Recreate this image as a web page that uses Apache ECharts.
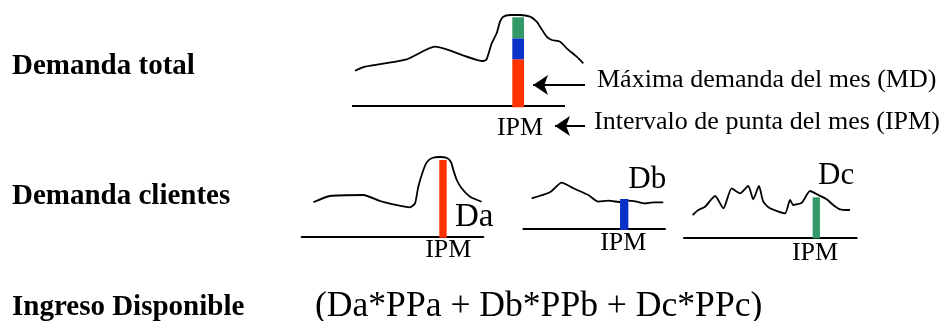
<!DOCTYPE html>
<html>
<head>
<meta charset="utf-8">
<script src="https://cdn.jsdelivr.net/npm/echarts@6/dist/echarts.min.js"></script>
<style>html,body{margin:0;padding:0;background:#fff}#c{width:949px;height:321px}</style>
</head>
<body>
<div id="c"></div>
<script>
// ---- data (x: position in month, 0..100 = month span; y: demand units) ----
const monthSpan = [0, 100];
const totalCurve = [[1.4,35.3],[6.1,39.3],[25.7,46.7],[39.0,59.3],[61.6,45],[63.2,46.7],[65.6,62.7],[67.9,72.7],[69.5,84.3],[71.0,89.3],[74.2,91],[78.9,91],[83.6,89.3],[86.7,84.3],[88.3,79.3],[91.4,69.3],[93.8,66],[97.7,64.3],[100.8,57.7],[105.5,49.3],[108.6,42.7]];
const curveA = [[6.4,34.4],[15.6,40.7],[33.9,41.7],[43.1,35.7],[50.4,32.4],[59.6,29.4],[62.4,33.4],[64.2,50],[67.0,66.7],[69.0,74.7],[71.8,78.7],[76.2,79.7],[80.0,78.7],[82.2,74.7],[83.5,66.7],[85.4,56.7],[88.1,48.4],[92.7,40],[99.1,35]];
const curveB = [[5.9,30.7],[18.8,36.7],[27.1,46.3],[35.3,40.7],[45.9,34],[52.9,27.3],[60.0,28.3],[69.4,26.7],[74.1,28.3],[80.0,27.3],[85.9,25.7],[91.7,26.7],[98.8,26.7]];
const curveC = [[5.0,22.3],[8.3,27.3],[12.2,30.6],[18.0,41.3],[22.8,29],[27.6,49],[32.4,44],[37.2,51.3],[40.1,38],[43.4,51.3],[45.9,35.6],[49.8,29],[58.5,24],[61.4,37.3],[63.3,32.3],[68.2,34.6],[73.0,46.3],[77.8,42.3],[82.6,38],[86.4,32.3],[90.3,28],[96.1,27.3]];
const ipmTotal = 78.0;          // IPM position in total panel
const mdParts = [46.7, 21, 21]; // contributions Da, Db, Dc to MD
const ipmA = 77.8, valA = 76.7; // Da
const ipmB = 71.2, valB = 30;   // Db
const ipmC = 76.6, valC = 40;   // Dc
const arrowMD = [[109.4,21],[85.0,21]];
const arrowIPM = [[109.4,-20],[95.3,-20]];
const labels = {
  total: 'Demanda total', clientes: 'Demanda clientes', ingreso: 'Ingreso Disponible',
  formula: '(Da*PPa + Db*PPb + Dc*PPc)',
  md: 'Máxima demanda del mes (MD)', ipmLong: 'Intervalo de punta del mes (IPM)', ipm: 'IPM',
  da: 'Da', db: 'Db', dc: 'Dc'
};
// ---------------------------------------------------------------

const RED = '#ff3300', BLUE = '#0a32c8', GREEN = '#339966';
const FONT = '"Liberation Serif","Times New Roman",serif';

const grids = [
  {left: 352, width: 234.3, top: 6, height: 100},
  {left: 301.7, width: 181.6, top: 136.7, height: 100},
  {left: 523.3, width: 141.7, top: 129, height: 100},
  {left: 684, width: 172.7, top: 137.3, height: 100}
];
const xMax = [110, 100, 100, 100];
const xAxes = grids.map((g, i) => ({
  gridIndex: i, type: 'value', min: 0, max: xMax[i],
  axisLine: {show: i !== 0, onZero: false, lineStyle: {color: '#000', width: 2}},
  axisTick: {show: false}, axisLabel: {show: false}, splitLine: {show: false}
}));
const yAxes = grids.map((g, i) => ({
  gridIndex: i, type: 'value', min: 0, max: 100, show: false
}));

function lineSeries(idx, data, w, smooth) {
  return {type: 'line', xAxisIndex: idx, yAxisIndex: idx, data: data, showSymbol: false,
    smooth: smooth, clip: false, lineStyle: {color: '#000', width: w}, z: 3, animation: false};
}
function barSeries(idx, items, width) {
  return {type: 'custom', xAxisIndex: idx, yAxisIndex: idx, clip: false, z: 4, animation: false,
    data: items.map(it => ({value: [it.x, it.y0, it.y1]})),
    renderItem: function (params, api) {
      const x = api.value(0);
      const p0 = api.coord([x, api.value(1)]);
      const p1 = api.coord([x, api.value(2)]);
      return {type: 'rect', shape: {x: p0[0] - width / 2, y: p1[1], width: width, height: p0[1] - p1[1]},
        style: {fill: items[params.dataIndex].color}};
    }};
}
let cum = 0;
const stackItems = mdParts.map((v, i) => {
  const it = {x: ipmTotal, y0: i === 0 ? -1.3 : cum, y1: cum + v, color: [RED, BLUE, GREEN][i]};
  cum += v; return it;
});
function arrowSeries(coords) {
  return {type: 'lines', coordinateSystem: 'cartesian2d', xAxisIndex: 0, yAxisIndex: 0, clip: false,
    polyline: false, symbol: ['none', 'arrow'], symbolSize: [13, 15], animation: false,
    lineStyle: {color: '#000', width: 2, opacity: 1}, data: [{coords: coords}]};
}

function txt(text, left, y, size, opts) {
  opts = opts || {};
  return {type: 'text', x: left, y: y,
    style: {text: text, font: (opts.bold ? 'bold ' : '') + size + 'px ' + FONT, fill: '#000',
      textAlign: opts.align || 'left', textVerticalAlign: 'middle'}};
}

const option = {
  backgroundColor: '#fff',
  animation: false,
  grid: grids,
  xAxis: xAxes,
  yAxis: yAxes,
  series: [
    lineSeries(0, [[monthSpan[0], 0], [monthSpan[1], 0]], 2, false),
    lineSeries(0, totalCurve, 1.8, 0.2),
    barSeries(0, stackItems, 11.7),
    lineSeries(1, curveA, 1.8, 0.2),
    barSeries(1, [{x: ipmA, y0: -1, y1: valA, color: RED}], 7.4),
    lineSeries(2, curveB, 1.8, 0.2),
    barSeries(2, [{x: ipmB, y0: -1, y1: valB, color: BLUE}], 8.3),
    lineSeries(3, curveC, 1.8, 0.2),
    barSeries(3, [{x: ipmC, y0: -1, y1: valC, color: GREEN}], 7.3),
    arrowSeries(arrowMD),
    arrowSeries(arrowIPM)
  ],
  graphic: [
    txt(labels.total, 12, 66.5, 29, {bold: true}),
    txt(labels.clientes, 12, 196.7, 29, {bold: true}),
    txt(labels.ingreso, 12, 307.5, 29, {bold: true}),
    txt(labels.formula, 315, 306.5, 35.6),
    txt(labels.md, 597, 80, 26),
    txt(labels.ipmLong, 594, 122, 26),
    txt(labels.ipm, 520, 128.5, 26, {align: 'center'}),
    txt(labels.ipm, 448.3, 250.5, 26, {align: 'center'}),
    txt(labels.ipm, 623.3, 243, 26, {align: 'center'}),
    txt(labels.ipm, 815, 253, 26, {align: 'center'}),
    txt(labels.da, 455, 217, 33),
    txt(labels.db, 628.3, 180, 31),
    txt(labels.dc, 818, 176, 31)
  ]
};
const chart = echarts.init(document.getElementById('c'), null, {renderer: 'canvas'});
chart.setOption(option);
</script>
</body>
</html>
